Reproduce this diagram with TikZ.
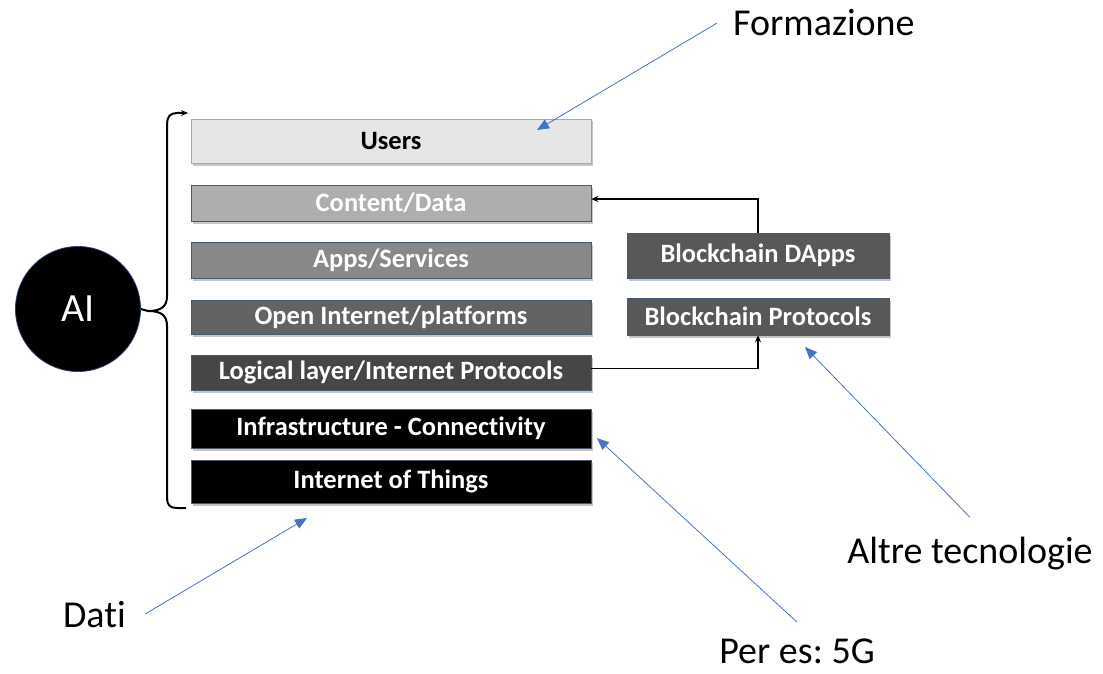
\documentclass[tikz,border=0pt]{standalone}
\usepackage{fontspec}
\setmainfont{Carlito}[Ligatures=NoCommon]
\usetikzlibrary{shadows,arrows.meta}
\definecolor{cblue}{RGB}{68,114,196}
\definecolor{cusers}{RGB}{230,230,230}
\definecolor{ccontent}{RGB}{174,174,174}
\definecolor{capps}{RGB}{136,136,136}
\definecolor{copen}{RGB}{99,99,99}
\definecolor{clogic}{RGB}{70,70,70}
\definecolor{cblock}{RGB}{88,88,88}
\definecolor{cedge}{RGB}{70,90,120}
\tikzset{
  layer/.style={draw=cedge, line width=0.5pt, text=white, inner sep=0pt,
    font=\bfseries\fontsize{26.5}{30}\selectfont,
    drop shadow={opacity=0.45, shadow xshift=2pt, shadow yshift=-2.5pt}},
  lbl/.style={font=\fontsize{38}{44}\selectfont, inner sep=0pt, text=black},
  bluearrow/.style={draw=cblue, line width=0.8pt, -{Triangle[length=12pt,width=10pt]}},
  blackarrow/.style={draw=black, line width=1.8pt, -{Stealth[length=7pt,width=6pt]}},
}
\frenchspacing
\begin{document}
\begin{tikzpicture}[x=1pt,y=-1pt]
\useasboundingbox (0,0) rectangle (1103,674);
% layers
\node[layer, fill=cusers, text=black, draw={rgb,255:red,142;green,169;blue,219}, minimum width=400pt, minimum height=44pt] (users) at (391,141) {Users};
\node[layer, fill=ccontent, minimum width=400pt, minimum height=36pt] (content) at (391,203) {Content/Data};
\node[layer, fill=capps, minimum width=400pt, minimum height=36pt] (apps) at (391,260) {Apps/Services};
\node[layer, fill=copen, minimum width=400pt, minimum height=34pt] (open) at (391,317) {Open Internet/platforms};
\node[layer, fill=clogic, minimum width=400pt, minimum height=35pt] (logical) at (391,372.5) {Logical layer/Internet Protocols};
\node[layer, fill=black, minimum width=400pt, minimum height=39pt] (infra) at (391,428.5) {Infrastructure - Connectivity};
\node[layer, fill=black, minimum width=400pt, minimum height=43pt] (iot) at (391,481.5) {Internet of Things};
% blockchain
\node[layer, fill=cblock, minimum width=262pt, minimum height=45pt] (dapps) at (758,255.5) {Blockchain DApps};
\node[layer, fill=cblock, minimum width=262pt, minimum height=37pt] (bprot) at (758,316.5) {Blockchain Protocols};
% AI
\node[circle, fill=black, draw={rgb,255:red,40;green,60;blue,110}, line width=0.8pt, minimum size=125pt, inner sep=0pt, text=white, font=\fontsize{40}{46}\selectfont] (ai) at (78,309) {AI};
% brace
\coordinate (btip) at (148,311);
\coordinate (btop) at (188,113);
\coordinate (bbot) at (186,508);
\draw[line width=2pt] (btip) .. controls (162,311) and (167,316) .. (167,326) -- (167,498) .. controls (167,505) and (170,508) .. (177,508) -- (bbot);
\draw[line width=2pt, -{Stealth[length=7pt,width=6pt]}] (btip) .. controls (162,311) and (167,306) .. (167,296) -- (167,124) .. controls (167,117) and (170,113) .. (177,113) -- (btop);
\draw[line width=2pt] (ai.east) -- (btip);
% black connectors
\draw[blackarrow] (dapps.north) |- ([yshift=4pt]content.east);
\draw[blackarrow] ([yshift=4pt]logical.east) -| (bprot.south);
% labels
\node[lbl, anchor=base west, inner xsep=16pt] (form) at (717,36) {Formazione};
\node[lbl, anchor=base] (altre) at (970,563) {Altre tecnologie};
\node[lbl, anchor=base] (peres) at (797,663) {Per es: 5G};
\node[lbl, anchor=base east, inner xsep=19pt] (dati) at (145,627) {Dati};
% blue arrow tips
\coordinate (formtip) at (537,130);
\coordinate (altretip) at (805,347);
\coordinate (perestip) at (597,438);
\coordinate (datitip) at (307,518);
\draw[bluearrow] (form.west) -- (formtip);
\draw[bluearrow] ([yshift=19pt]altre.north) -- (altretip);
\draw[bluearrow] ([yshift=16pt]peres.north) -- (perestip);
\draw[bluearrow] (dati.east) -- (datitip);
\end{tikzpicture}
\end{document}
